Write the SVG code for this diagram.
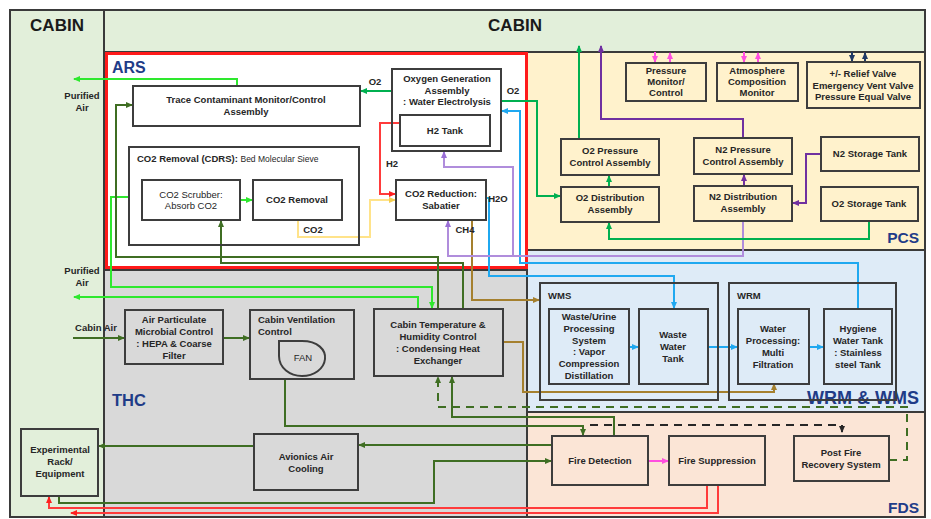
<svg xmlns="http://www.w3.org/2000/svg" width="931" height="519" viewBox="0 0 931 519">
<defs>
<style>
.reg{stroke:#3a3a3a;stroke-width:2}
.b{fill:none;stroke:#3d3d3d;stroke-width:2}
.t{font-family:"Liberation Sans",Arial,sans-serif;font-weight:bold;font-size:9.5px;fill:#262626;text-anchor:middle}
.tl{text-anchor:start}
.n{font-weight:normal}
.h{font-family:"Liberation Sans",Arial,sans-serif;font-weight:bold;fill:#1f3c88}
.cab{font-family:"Liberation Sans",Arial,sans-serif;font-weight:bold;font-size:17px;fill:#1a1a1a;text-anchor:middle}
.l{fill:none;stroke-width:2}
.g{stroke:#00b050}.lm{stroke:#2ee82e}.dg{stroke:#3f6e23}.bl{stroke:#1fa8f0}.lp{stroke:#b08ddc}.dp{stroke:#7030a0}
.rd{stroke:#ff3b3b}.yl{stroke:#ffe38a}.br{stroke:#a5802e}.pk{stroke:#ff4fe0}.nv{stroke:#1f3864}.bk{stroke:#262626}
.ds{stroke-dasharray:8,6}
</style>
<marker id="ag" markerUnits="userSpaceOnUse" markerWidth="7" markerHeight="7" refX="6" refY="3.5" orient="auto"><path d="M0,0.5L7,3.5L0,6.5z" fill="#00b050"/></marker>
<marker id="alm" markerUnits="userSpaceOnUse" markerWidth="7" markerHeight="7" refX="6" refY="3.5" orient="auto"><path d="M0,0.5L7,3.5L0,6.5z" fill="#2ee82e"/></marker>
<marker id="adg" markerUnits="userSpaceOnUse" markerWidth="7" markerHeight="7" refX="6" refY="3.5" orient="auto"><path d="M0,0.5L7,3.5L0,6.5z" fill="#3f6e23"/></marker>
<marker id="abl" markerUnits="userSpaceOnUse" markerWidth="7" markerHeight="7" refX="6" refY="3.5" orient="auto"><path d="M0,0.5L7,3.5L0,6.5z" fill="#1fa8f0"/></marker>
<marker id="alp" markerUnits="userSpaceOnUse" markerWidth="7" markerHeight="7" refX="6" refY="3.5" orient="auto"><path d="M0,0.5L7,3.5L0,6.5z" fill="#9a6fd6"/></marker>
<marker id="adp" markerUnits="userSpaceOnUse" markerWidth="7" markerHeight="7" refX="6" refY="3.5" orient="auto"><path d="M0,0.5L7,3.5L0,6.5z" fill="#7030a0"/></marker>
<marker id="ard" markerUnits="userSpaceOnUse" markerWidth="7" markerHeight="7" refX="6" refY="3.5" orient="auto"><path d="M0,0.5L7,3.5L0,6.5z" fill="#ff2020"/></marker>
<marker id="ayl" markerUnits="userSpaceOnUse" markerWidth="7" markerHeight="7" refX="6" refY="3.5" orient="auto"><path d="M0,0.5L7,3.5L0,6.5z" fill="#f5cf50"/></marker>
<marker id="abr" markerUnits="userSpaceOnUse" markerWidth="7" markerHeight="7" refX="6" refY="3.5" orient="auto"><path d="M0,0.5L7,3.5L0,6.5z" fill="#a5802e"/></marker>
<marker id="apk" markerUnits="userSpaceOnUse" markerWidth="7" markerHeight="7" refX="6" refY="3.5" orient="auto"><path d="M0,0.5L7,3.5L0,6.5z" fill="#ff4fe0"/></marker>
<marker id="anv" markerUnits="userSpaceOnUse" markerWidth="7" markerHeight="7" refX="6" refY="3.5" orient="auto"><path d="M0,0.5L7,3.5L0,6.5z" fill="#1f3864"/></marker>
<marker id="abk" markerUnits="userSpaceOnUse" markerWidth="7" markerHeight="7" refX="6" refY="3.5" orient="auto"><path d="M0,0.5L7,3.5L0,6.5z" fill="#262626"/></marker>
</defs>
<rect width="931" height="519" fill="#ffffff"/>

<g id="regions">
<rect class="reg" x="10" y="10" width="94" height="507" fill="#e2efda"/>
<rect class="reg" x="104" y="10" width="821" height="42" fill="#e2efda"/>
<rect class="reg" x="104" y="52" width="423" height="218" fill="#ffffff"/>
<rect class="reg" x="104" y="270" width="423" height="247" fill="#d9d9d9"/>
<rect class="reg" x="527" y="52" width="398" height="198" fill="#fff2cc"/>
<rect class="reg" x="527" y="250" width="398" height="162" fill="#deebf7"/>
<rect class="reg" x="527" y="412" width="398" height="105" fill="#fbe5d6"/>
<rect x="106.5" y="53.5" width="420" height="214" fill="none" stroke="#ff1a1a" stroke-width="3"/>
<text class="cab" x="57" y="31">CABIN</text>
<text class="cab" x="515" y="31">CABIN</text>
<text class="h" x="112" y="73" font-size="16">ARS</text>
<text class="h" x="112" y="406" font-size="16.5">THC</text>
<text class="h" x="919" y="243" font-size="15.5" text-anchor="end">PCS</text>
<text class="h" x="919" y="404" font-size="18" text-anchor="end">WRM &amp; WMS</text>
<text class="h" x="919" y="513" font-size="15.5" text-anchor="end">FDS</text>
</g>

<g id="connectors">
<path class="l g" d="M392,91H361" marker-end="url(#ag)"/>
<path class="l g" d="M501,101H537V196H560" marker-end="url(#ag)"/>
<path class="l rd" d="M400,123H380V194H395" marker-end="url(#ard)"/>
<path class="l yl" d="M298,220V237H370V200H395" marker-end="url(#ayl)"/>
<path class="l lm" d="M240,200H252" marker-end="url(#alm)"/>
<path class="l lm" d="M237,86V79H74" marker-end="url(#alm)"/>
<path class="l lm" d="M129,197H111V287H432V308" marker-end="url(#alm)"/>
<path class="l lm" d="M418,309V297H74" marker-end="url(#alm)"/>
<path class="l dg" d="M438,309V257H116V105H132" marker-end="url(#adg)"/>
<path class="l dg" d="M463,309V263H221V221" marker-end="url(#adg)"/>
<path class="l br" d="M472,220V300H539" marker-end="url(#abr)"/>
<path class="l bl" d="M486,198H489V276H674V308" marker-end="url(#abl)"/>
<path class="l bl" d="M858,309V263H520V111H502" marker-end="url(#abl)"/>
<path class="l lp" d="M743,221V256H448V221" marker-end="url(#alp)"/>
<path class="l lp" d="M513,256V167H444V152" marker-end="url(#alp)"/>
<path class="l dp" d="M743,138V119H601V46" marker-end="url(#adp)"/>
<path class="l dp" d="M821,154H806V203H793" marker-end="url(#adp)"/>
<path class="l dp" d="M744,186V175" marker-end="url(#adp)"/>
<path class="l g" d="M869,221V239H609V223" marker-end="url(#ag)"/>
<path class="l g" d="M609,187V176" marker-end="url(#ag)"/>
<path class="l g" d="M579,139V46" marker-end="url(#ag)"/>
<path class="l pk" d="M655,52V62" marker-end="url(#apk)"/>
<path class="l pk" d="M670,63V53" marker-end="url(#apk)"/>
<path class="l pk" d="M744,52V62" marker-end="url(#apk)"/>
<path class="l pk" d="M758,63V53" marker-end="url(#apk)"/>
<path class="l nv" d="M852,52V61" marker-end="url(#anv)"/>
<path class="l nv" d="M865,62V53" marker-end="url(#anv)"/>
<path class="l dg" d="M73,338H124" marker-end="url(#adg)"/>
<path class="l dg" d="M223,338H249" marker-end="url(#adg)"/>
<path class="l dg" d="M285,379V426H583V435" marker-end="url(#adg)"/>
<path class="l bk ds" d="M590,425H842V432" marker-end="url(#abk)"/>
<path class="l dg" d="M614,436V417H452V377" marker-end="url(#adg)"/>
<path class="l dg ds" d="M889,460H907V407H438V377" marker-end="url(#adg)"/>
<path class="l br" d="M503,342H523V392H774V384" marker-end="url(#abr)"/>
<path class="l dg" d="M552,445H359" marker-end="url(#adg)"/>
<path class="l dg" d="M254,446H99" marker-end="url(#adg)"/>
<path class="l dg" d="M59,496V503H434V461H551" marker-end="url(#adg)"/>
<path class="l pk" d="M648,461H668" marker-end="url(#apk)"/>
<path class="l rd" d="M707,485V508H49V497" marker-end="url(#ard)"/>
<path class="l rd" d="M718,485V513H71" marker-end="url(#ard)"/>
<path class="l bl" d="M629,347H638" marker-end="url(#abl)"/>
<path class="l bl" d="M708,347H737" marker-end="url(#abl)"/>
<path class="l bl" d="M809,347H823" marker-end="url(#abl)"/>
</g>

<g id="edge-labels">
<text class="t" x="375" y="85">O2</text>
<text class="t" x="513" y="94">O2</text>
<text class="t" x="392" y="167">H2</text>
<text class="t" x="498" y="202">H2O</text>
<text class="t" x="465" y="233">CH4</text>
<text class="t" x="313" y="233">CO2</text>
<text class="t" x="82" y="99">Purified<tspan x="82" dy="11.5">Air</tspan></text>
<text class="t" x="82" y="274">Purified<tspan x="82" dy="11.5">Air</tspan></text>
<text class="t" x="96" y="331">Cabin Air</text>
</g>

<g id="tcmca"><rect class="b" x="133" y="86" width="227" height="40"/>
<text class="t" x="246" y="103">Trace Contaminant Monitor/Control<tspan x="246" dy="11.5">Assembly</tspan></text></g>
<g id="oga"><rect class="b" x="392" y="69" width="109" height="82"/>
<text class="t" x="447" y="82">Oxygen Generation<tspan x="447" dy="11.5">Assembly</tspan><tspan x="447" dy="11.5">: Water Electrolysis</tspan></text></g>
<g id="h2tank"><rect class="b" x="400" y="115" width="90" height="31"/>
<text class="t" x="445" y="134">H2 Tank</text></g>
<g id="cdrs"><rect class="b" x="129" y="147" width="230" height="98"/>
<text class="t tl" x="137" y="162">CO2 Removal (CDRS): <tspan class="n" font-size="8.5">Bed Molecular Sieve</tspan></text></g>
<g id="scrubber"><rect class="b" x="142" y="180" width="98" height="40"/>
<text class="t n" x="191" y="198" font-size="8.5">CO2 Scrubber:<tspan x="191" dy="11">Absorb CO2</tspan></text></g>
<g id="co2removal"><rect class="b" x="253" y="180" width="89" height="40"/>
<text class="t" x="297" y="203">CO2 Removal</text></g>
<g id="sabatier"><rect class="b" x="396" y="180" width="90" height="40"/>
<text class="t" x="441" y="197">CO2 Reduction:<tspan x="441" dy="12">Sabatier</tspan></text></g>

<g id="pmc"><rect class="b" x="626" y="63" width="80" height="38"/>
<text class="t" x="666" y="74">Pressure<tspan x="666" dy="11">Monitor/</tspan><tspan x="666" dy="11">Control</tspan></text></g>
<g id="acm"><rect class="b" x="717" y="63" width="81" height="38"/>
<text class="t" x="757" y="74">Atmosphere<tspan x="757" dy="11">Composition</tspan><tspan x="757" dy="11">Monitor</tspan></text></g>
<g id="valves"><rect class="b" x="807" y="62" width="113" height="46"/>
<text class="t" x="863" y="77">+/- Relief Valve<tspan x="863" dy="11.5">Emergency Vent Valve</tspan><tspan x="863" dy="11.5">Pressure Equal Valve</tspan></text></g>
<g id="o2pca"><rect class="b" x="561" y="139" width="98" height="36"/>
<text class="t" x="610" y="154">O2 Pressure<tspan x="610" dy="12">Control Assembly</tspan></text></g>
<g id="o2da"><rect class="b" x="561" y="187" width="98" height="35"/>
<text class="t" x="610" y="201">O2 Distribution<tspan x="610" dy="12">Assembly</tspan></text></g>
<g id="n2pca"><rect class="b" x="694" y="138" width="98" height="36"/>
<text class="t" x="743" y="153">N2 Pressure<tspan x="743" dy="12">Control Assembly</tspan></text></g>
<g id="n2da"><rect class="b" x="694" y="186" width="98" height="35"/>
<text class="t" x="743" y="200">N2 Distribution<tspan x="743" dy="12">Assembly</tspan></text></g>
<g id="n2st"><rect class="b" x="821" y="137" width="98" height="34"/>
<text class="t" x="870" y="157">N2 Storage Tank</text></g>
<g id="o2st"><rect class="b" x="821" y="187" width="97" height="34"/>
<text class="t" x="869" y="207">O2 Storage Tank</text></g>

<g id="apmc"><rect class="b" x="125" y="310" width="98" height="54"/>
<text class="t" x="174" y="323">Air Particulate<tspan x="174" dy="12">Microbial Control</tspan><tspan x="174" dy="12">: HEPA &amp; Coarse</tspan><tspan x="174" dy="12">Filter</tspan></text></g>
<g id="cvc"><rect class="b" x="250" y="310" width="104" height="69"/>
<text class="t tl" x="258" y="323">Cabin Ventilation<tspan x="258" dy="12">Control</tspan></text>
<path class="b" d="M279,341H302C318,341 326,350 325,359C324,369 314,376 302,376C290,376 279,368 279,356Z"/>
<text class="t n" x="303" y="361" font-size="8">FAN</text></g>
<g id="cthc"><rect class="b" x="374" y="309" width="129" height="67"/>
<text class="t" x="438" y="328">Cabin Temperature &amp;<tspan x="438" dy="12">Humidity Control</tspan><tspan x="438" dy="12">: Condensing Heat</tspan><tspan x="438" dy="12">Exchanger</tspan></text></g>
<g id="avionics"><rect class="b" x="254" y="434" width="104" height="56"/>
<text class="t" x="306" y="460">Avionics Air<tspan x="306" dy="12">Cooling</tspan></text></g>
<g id="exprack"><rect class="b" x="21" y="429" width="77" height="67"/>
<text class="t" x="60" y="453">Experimental<tspan x="60" dy="12">Rack/</tspan><tspan x="60" dy="12">Equipment</tspan></text></g>

<g id="wms"><rect class="b" x="540" y="283" width="178" height="117"/>
<text class="t tl" x="548" y="299" font-size="9">WMS</text></g>
<g id="wups"><rect class="b" x="549" y="309" width="80" height="75"/>
<text class="t" x="589" y="320">Waste/Urine<tspan x="589" dy="11.8">Processing</tspan><tspan x="589" dy="11.8">System</tspan><tspan x="589" dy="11.8">: Vapor</tspan><tspan x="589" dy="11.8">Compression</tspan><tspan x="589" dy="11.8">Distillation</tspan></text></g>
<g id="wwt"><rect class="b" x="639" y="309" width="69" height="75"/>
<text class="t" x="673" y="338">Waste<tspan x="673" dy="12">Water</tspan><tspan x="673" dy="12">Tank</tspan></text></g>
<g id="wrm"><rect class="b" x="729" y="283" width="167" height="117"/>
<text class="t tl" x="737" y="299" font-size="9">WRM</text></g>
<g id="wp"><rect class="b" x="738" y="309" width="71" height="75"/>
<text class="t" x="773" y="332">Water<tspan x="773" dy="12">Processing:</tspan><tspan x="773" dy="12">Multi</tspan><tspan x="773" dy="12">Filtration</tspan></text></g>
<g id="hwt"><rect class="b" x="824" y="309" width="68" height="75"/>
<text class="t" x="858" y="332">Hygiene<tspan x="858" dy="12">Water Tank</tspan><tspan x="858" dy="12">: Stainless</tspan><tspan x="858" dy="12">steel Tank</tspan></text></g>

<g id="firedet"><rect class="b" x="552" y="436" width="96" height="49"/>
<text class="t" x="600" y="464">Fire Detection</text></g>
<g id="firesup"><rect class="b" x="669" y="436" width="96" height="49"/>
<text class="t" x="717" y="464">Fire Suppression</text></g>
<g id="postfire"><rect class="b" x="794" y="436" width="95" height="45"/>
<text class="t" x="841" y="456">Post Fire<tspan x="841" dy="11.5">Recovery System</tspan></text></g>
</svg>
